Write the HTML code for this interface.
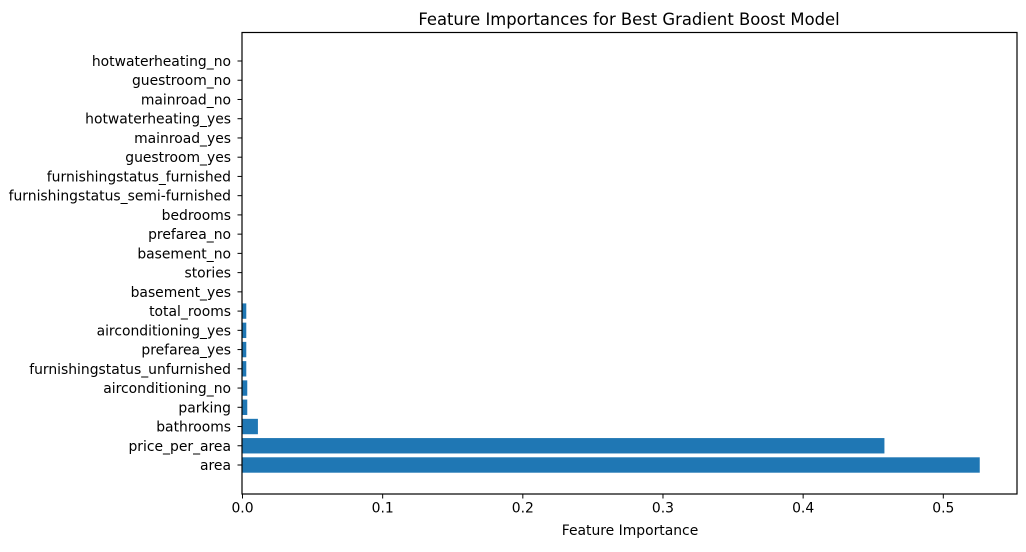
<!DOCTYPE html>
<html><head><meta charset="utf-8"><style>
body{margin:0;background:#fff;}
svg text{font-family:"DejaVu Sans","Liberation Sans",sans-serif;fill:#000;}
</style></head><body>
<svg id="chart" width="1026" height="547" xmlns="http://www.w3.org/2000/svg">
<rect width="1026" height="547" fill="#fff"/>
<text x="629" y="25" font-size="16.4" text-anchor="middle">Feature Importances for Best Gradient Boost Model</text>
<g id="bars"></g><g id="yticks"></g><g id="xticks"></g>
<rect x="242" y="32.5" width="775" height="461.5" fill="none" stroke="#000" stroke-width="1.2"/>
<text x="630" y="535" font-size="13.9" text-anchor="middle">Feature Importance</text>
</svg>
<script>
const features=["area","price_per_area","bathrooms","parking","airconditioning_no","furnishingstatus_unfurnished","prefarea_yes","airconditioning_yes","total_rooms","basement_yes","stories","basement_no","prefarea_no","bedrooms","furnishingstatus_semi-furnished","furnishingstatus_furnished","guestroom_yes","mainroad_yes","hotwaterheating_yes","mainroad_no","guestroom_no","hotwaterheating_no"];
const importances=[0.526,0.458,0.011,0.0034,0.0034,0.0027,0.0027,0.0027,0.0027,0,0,0,0,0,0,0,0,0,0,0,0,0];
const xTicks=[0,0.1,0.2,0.3,0.4,0.5];
const xTickLabels=["0.0","0.1","0.2","0.3","0.4","0.5"];
const NS="http://www.w3.org/2000/svg";
const x0=242.5,xs=1401.6;
const xScale=v=>x0+v*xs;
const nRows=features.length;
const yTop=61,yBot=465,step=(yBot-yTop)/(nRows-1);
const yScale=i=>yBot-i*step;
const bh=step*0.8;
const bars=document.getElementById('bars'),yt=document.getElementById('yticks'),xt=document.getElementById('xticks');
features.forEach((f,i)=>{
  const y=yScale(i);
  const r=document.createElementNS(NS,'rect');
  
  
  r.setAttribute('x',xScale(0));r.setAttribute('y',y-bh/2);
  r.setAttribute('width',Math.max(0,xScale(importances[i])-xScale(0)));r.setAttribute('height',bh);
  r.setAttribute('fill','#1f77b4');bars.appendChild(r);
  const l=document.createElementNS(NS,'line');
  
  
  l.setAttribute('x1',237.5);l.setAttribute('x2',242);l.setAttribute('y1',y);l.setAttribute('y2',y);l.setAttribute('stroke','#000');yt.appendChild(l);
  const t=document.createElementNS(NS,'text');
  
  
  t.setAttribute('x',231);t.setAttribute('y',y+5);t.setAttribute('font-size','13.9');t.setAttribute('text-anchor','end');t.textContent=f;yt.appendChild(t);
});
xTicks.forEach((v,i)=>{
  const x=xScale(v);
  const l=document.createElementNS(NS,'line');
  
  
  l.setAttribute('x1',x);l.setAttribute('x2',x);l.setAttribute('y1',494);l.setAttribute('y2',498.5);l.setAttribute('stroke','#000');xt.appendChild(l);
  const t=document.createElementNS(NS,'text');
  
  
  t.setAttribute('x',x);t.setAttribute('y',512.5);t.setAttribute('font-size','13.9');t.setAttribute('text-anchor','middle');t.textContent=xTickLabels[i];xt.appendChild(t);
});
</script>
</body></html>
